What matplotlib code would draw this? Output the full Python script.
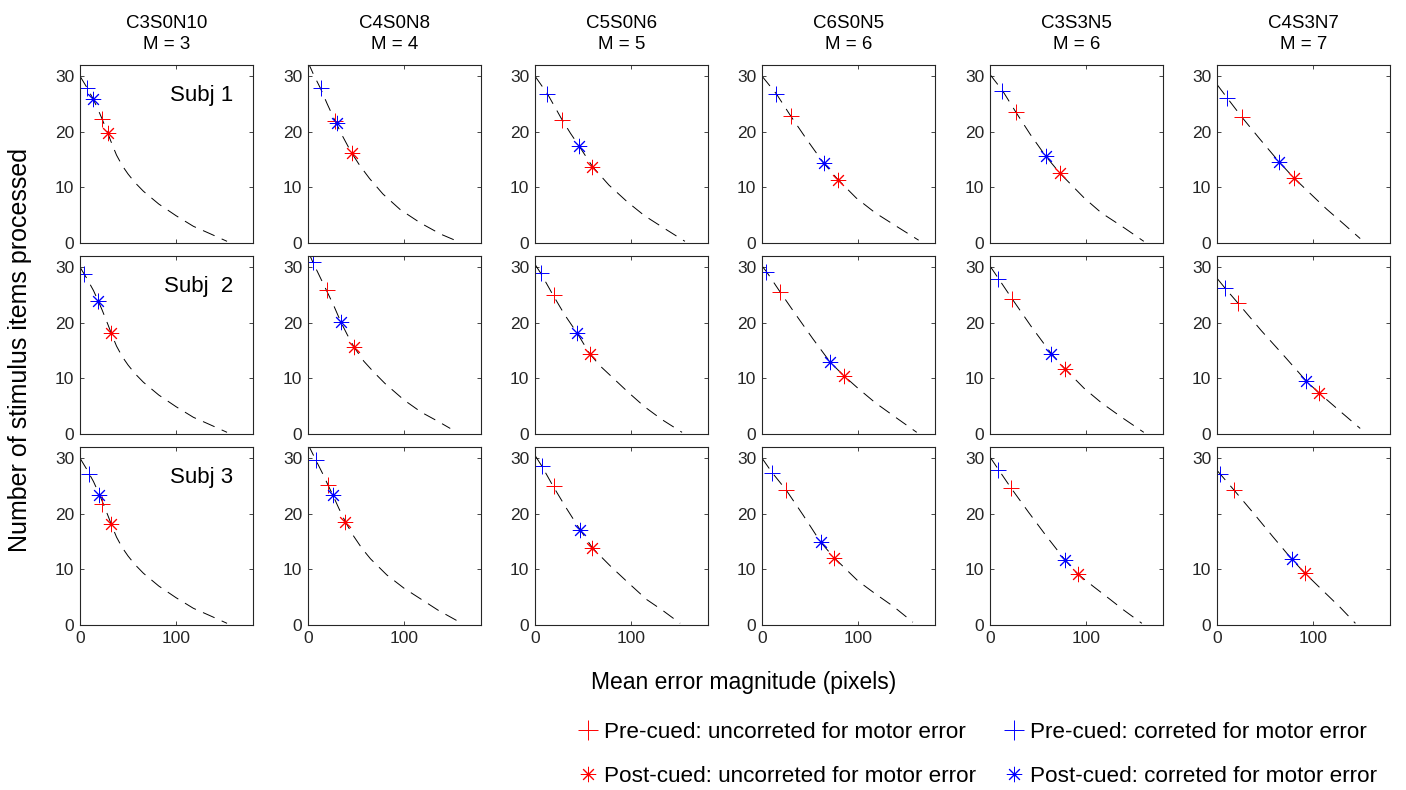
import numpy as np
import matplotlib
matplotlib.use("Agg")
import matplotlib.pyplot as plt
from matplotlib.lines import Line2D

plt.rcParams['font.family'] = ['Liberation Sans', 'DejaVu Sans']

conditions = ["C3S0N10", "C4S0N8", "C5S0N6", "C6S0N5", "C3S3N5", "C4S3N7"]
m_values = [3, 4, 5, 6, 6, 7]
subjects = ["Subj 1", "Subj  2", "Subj 3"]

# marker positions, [subject][condition]
pre_unc_x = [[22.8, 28.1, 28.1, 29.8, 27.4, 25.6],
             [18.6, 19.3, 19.3, 18.6, 22.8, 22.1],
             [22.8, 21.1, 19.3, 24.6, 22.1, 17.5]]
pre_unc_y = [[22.3, 22.0, 22.2, 22.8, 23.5, 22.6],
             [24.0, 25.9, 24.9, 25.5, 24.3, 23.5],
             [21.8, 25.1, 24.9, 24.3, 24.6, 24.3]]
pre_cor_x = [[7.0, 13.6, 13.0, 14.7, 13.0, 10.5],
             [4.6, 5.3, 6.0, 4.6, 8.8, 8.1],
             [9.5, 8.1, 7.0, 10.5, 8.8, 3.5]]
pre_cor_y = [[27.8, 27.9, 26.8, 26.8, 27.4, 26.1],
             [28.8, 30.9, 28.9, 29.1, 27.9, 26.3],
             [27.2, 29.7, 28.6, 27.4, 27.9, 27.1]]
post_unc_x = [[28.8, 45.5, 59.6, 79.0, 72.6, 79.6],
              [32.6, 48.1, 57.2, 85.3, 78.2, 106.3],
              [32.6, 38.6, 59.6, 74.7, 91.2, 91.2]]
post_unc_y = [[19.8, 16.2, 13.7, 11.4, 12.5, 11.7],
              [18.1, 15.6, 14.4, 10.5, 11.7, 7.4],
              [18.1, 18.5, 13.8, 12.1, 9.2, 9.4]]
post_cor_x = [[14.0, 30.4, 45.6, 64.2, 57.9, 64.9],
              [18.6, 34.0, 43.9, 71.2, 63.9, 93.0],
              [19.3, 25.6, 46.7, 61.4, 77.9, 78.2]]
post_cor_y = [[25.8, 21.5, 17.4, 14.4, 15.6, 14.5],
              [24.0, 20.2, 18.1, 12.9, 14.4, 9.5],
              [23.3, 23.3, 17.1, 14.9, 11.7, 11.8]]

# model curves, [subject][condition]
col1_x = [0, 7, 14, 19, 23, 29, 33, 38, 44, 50, 57, 66, 82, 100, 118, 135, 153]
col1_y = [30, 28, 25.8, 23.9, 22.3, 19.7, 17.9, 15.8, 13.9, 12.4, 10.9, 9.3, 7.0, 4.9, 3.0, 1.7, 0.3]

curve_x = [
    [col1_x,
     [0, 6, 13, 20, 28, 36, 45, 54, 64, 78, 96, 117, 138, 157],
     [0, 13, 28, 37, 46, 60, 77, 96, 114, 133, 156],
     [0, 15, 30, 47, 64, 79, 98, 118, 139, 163],
     [0, 13, 27, 42, 58, 73, 98, 116, 139, 160],
     [0, 10.5, 26, 45, 65, 80, 100, 114, 128, 149]],
    [col1_x,
     [0, 5, 12, 19, 27, 34, 41, 48, 58, 68, 80, 90, 100, 118, 135, 148],
     [0, 6, 19, 31, 44, 57, 68, 81, 97, 114, 132, 153],
     [0, 5, 19, 35, 53, 71, 85, 100, 118, 139, 161],
     [0, 9, 23, 43, 64, 78, 98, 116, 137, 160],
     [0, 8, 22, 46, 70, 93, 106, 128, 149]],
    [col1_x,
     [0, 8, 15, 21, 26, 32, 39, 47, 56, 65, 82, 100, 118, 135, 160],
     [0, 7, 19, 33, 47, 60, 79, 97, 116, 133, 151],
     [0, 10.5, 25, 43, 61, 75, 100, 118, 137, 157],
     [0, 9, 22, 40, 59, 78, 91, 107, 125, 139, 158],
     [0, 3.5, 17.5, 38, 58, 78, 91, 110, 128, 144]],
]
curve_y = [
    [col1_y,
     [32.5, 30.2, 27.8, 25.0, 22.0, 19.2, 16.3, 13.9, 11.6, 8.8, 6.0, 3.6, 1.6, 0.2],
     [30, 26.8, 22.2, 19.7, 17.4, 13.7, 10.4, 7.4, 4.9, 2.8, 0.3],
     [30, 26.8, 22.8, 18.5, 14.4, 11.4, 8.1, 5.4, 3.1, 0.5],
     [30.3, 27.4, 23.5, 19.5, 15.6, 12.5, 8.1, 5.4, 2.8, 0.3],
     [28.5, 26.1, 22.6, 18.6, 14.5, 11.7, 8.4, 6.1, 4.0, 0.8]],
    [col1_y,
     [32.9, 30.9, 28.4, 25.9, 23.0, 20.2, 17.8, 15.6, 13.1, 11.2, 9.1, 7.6, 6.1, 3.9, 2.3, 1.0],
     [30.5, 28.9, 24.9, 21.4, 18.1, 14.4, 12.2, 10.1, 7.5, 4.9, 2.6, 0.3],
     [30.2, 29.1, 25.5, 21.5, 17.1, 12.9, 10.5, 8.2, 5.6, 3.0, 0.3],
     [30.2, 27.9, 24.3, 19.3, 14.4, 11.7, 8.2, 5.6, 3.0, 0.3],
     [28.0, 26.3, 23.5, 18.6, 14.0, 9.5, 7.4, 4.1, 1.0]],
    [col1_y,
     [32.5, 29.7, 27.3, 25.1, 23.3, 21.0, 18.5, 16.1, 13.8, 11.9, 9.0, 6.6, 4.6, 2.7, 0.3],
     [30.5, 28.6, 24.9, 20.9, 17.1, 13.8, 10.5, 7.6, 4.6, 2.6, 0.3],
     [30, 27.4, 24.3, 19.7, 14.9, 12.1, 7.9, 5.6, 3.3, 0.5],
     [30.2, 27.9, 24.6, 20.3, 15.9, 11.7, 9.2, 7.0, 4.6, 2.7, 0.3],
     [27.8, 27.1, 24.3, 20.1, 15.9, 11.8, 9.4, 6.2, 3.2, 0.3]],
]

legend_labels = ["Pre-cued: uncorreted for motor error",
                 "Post-cued: uncorreted for motor error",
                 "Pre-cued: correted for motor error",
                 "Post-cued: correted for motor error"]

W, H = 1406, 790
col_left = [80, 308, 535, 762, 990, 1217]
row_top = [65, 256, 447]
ax_w, ax_h = 173, 178

ink = '#262626'
star = (8, 2, 0)
ms_star = 11
ms_plus = 12
mew = 0.7

fig = plt.figure(figsize=(W / 100, H / 100), dpi=100)

for r in range(3):
    for c in range(6):
        ax = fig.add_axes([col_left[c] / W, 1 - (row_top[r] + ax_h) / H, ax_w / W, ax_h / H])
        ax.plot(curve_x[r][c], curve_y[r][c], color='k', lw=0.7, linestyle=(0, (13, 8)))
        ax.plot(pre_unc_x[r][c], pre_unc_y[r][c], marker='+', color='r', ms=ms_plus, mew=mew, ls='none')
        ax.plot(post_unc_x[r][c], post_unc_y[r][c], marker=star, color='r', ms=ms_star, mew=mew, ls='none')
        ax.plot(pre_cor_x[r][c], pre_cor_y[r][c], marker='+', color='b', ms=ms_plus, mew=mew, ls='none')
        ax.plot(post_cor_x[r][c], post_cor_y[r][c], marker=star, color='b', ms=ms_star, mew=mew, ls='none')

        ax.set_xlim(0, 180)
        ax.set_ylim(0, 32)
        ax.set_xticks([0, 100])
        ax.set_yticks([0, 10, 20, 30])
        if r == 2 and c == 5:
            ax.set_yticklabels(['0', '10', '', '30'])
        if r < 2:
            ax.set_xticklabels([])
        ax.tick_params(direction='in', top=True, right=True, length=3, width=0.6,
                       colors=ink, labelsize=12.5, pad=4)
        for sp in ax.spines.values():
            sp.set_color(ink)
            sp.set_linewidth(0.8)

        if c == 0:
            ax.text(0.885, 0.83, subjects[r], transform=ax.transAxes, ha='right',
                    va='center', fontsize=16, color='k')
        if r == 0:
            fig.text((col_left[c] + ax_w / 2) / W, 1 - 34 / H,
                     f"{conditions[c]}\nM = {m_values[c]}", ha='center', va='center',
                     fontsize=13.5, linespacing=1.3, color='k')

fig.text(20 / W, 1 - 350 / H, "Number of stimulus items processed", rotation=90,
         ha='center', va='center', fontsize=18, color='k')
fig.text(744 / W, 1 - 682 / H, "Mean error magnitude (pixels)",
         ha='center', va='center', fontsize=16.5, color='k')

handles = [Line2D([], [], marker='+', color='r', ms=ms_plus + 2, mew=mew, ls='none'),
           Line2D([], [], marker=star, color='r', ms=ms_star, mew=mew, ls='none'),
           Line2D([], [], marker='+', color='b', ms=ms_plus + 2, mew=mew, ls='none'),
           Line2D([], [], marker=star, color='b', ms=ms_star, mew=mew, ls='none')]
fig.legend(handles, legend_labels, ncol=2, loc='upper left',
           bbox_to_anchor=(578 / W, 1 - 722 / H), frameon=False, fontsize=16.2,
           handlelength=0.9, handletextpad=0.25, columnspacing=1.25, labelspacing=1.0,
           borderaxespad=0, borderpad=0)

fig.savefig("out.png", dpi=100)
